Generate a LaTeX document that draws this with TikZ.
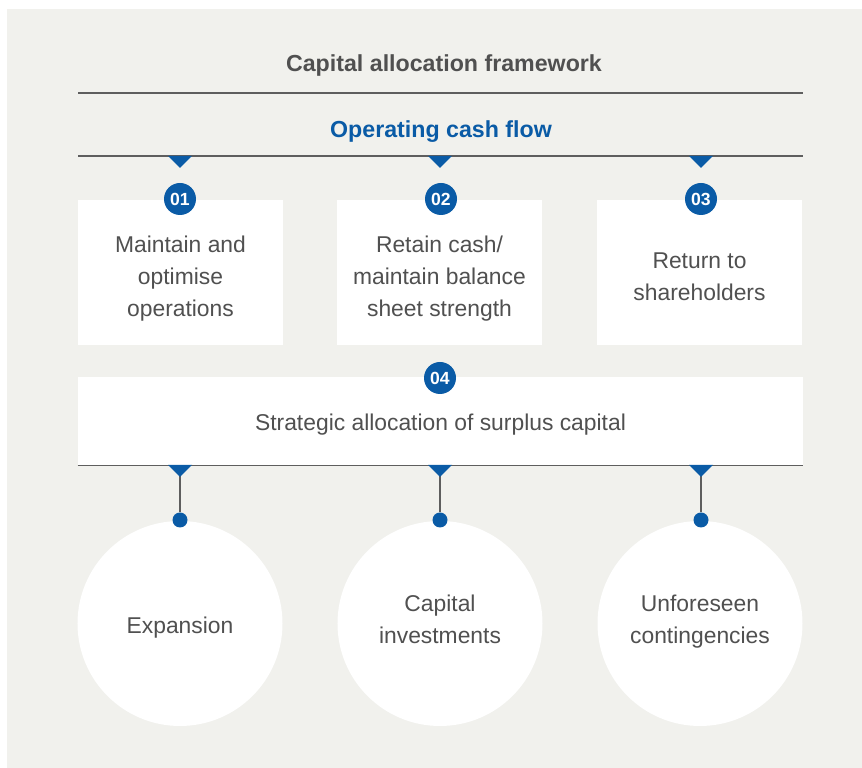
\documentclass[tikz,border=0pt]{standalone}
\usepackage{fontspec}
\setmainfont{Liberation Sans}
\definecolor{bggrey}{HTML}{F1F1ED}
\definecolor{capblue}{HTML}{0A5BA6}
\definecolor{txtgrey}{HTML}{505050}
\definecolor{rulegrey}{HTML}{5E5E5E}
\tikzset{
  box/.style={fill=white, minimum width=41mm, minimum height=29mm},
  bubble/.style={circle, fill=white, minimum size=41mm},
  txt/.style={text=txtgrey, align=center, font=\fontsize{13}{18.1}\selectfont},
  badge/.style={circle, fill=capblue, text=white, inner sep=0pt, minimum size=6.4mm, font=\fontsize{10}{11}\selectfont\bfseries},
  dot/.style={circle, fill=capblue, inner sep=0pt, minimum size=3mm},
  rule/.style={rulegrey, line width=.3mm},
  head/.style={font=\fontsize{13.2}{16}\selectfont\bfseries}
}
\begin{document}
\begin{tikzpicture}[x=.2mm,y=-.2mm]
\useasboundingbox (0,0) rectangle (862,768);
\fill[bggrey] (7,9) rectangle (862,768);

\node[head,text=txtgrey] (title) at (444,66) {Capital allocation framework};
\node[head,text=capblue] (ocf) at (441,132) {Operating cash flow};
\draw[rule] (78,93) -- (803,93);
\draw[rule] (78,156) -- (803,156);

% three uses of cash
\node[box] (b1) at (180.5,272.5) {};
\node[box] (b2) at (439.5,272.5) {};
\node[box] (b3) at (699.5,272.5) {};
\node[txt] (t1) at ([yshift=-1.2mm]b1.center) {Maintain and\\optimise\\operations};
\node[txt] (t2) at ([yshift=-1.2mm]b2.center) {Retain cash/\\maintain balance\\sheet strength};
\node[txt] (t3) at ([yshift=-.8mm]b3.center) {Return to\\shareholders};

% surplus
\node[box,minimum width=145mm,minimum height=17.6mm] (b4) at (440.5,421) {};
\node[txt] (t4) at ([yshift=-.8mm]b4.center) {Strategic allocation of surplus capital};
\draw[rule] (b4.south west) -- (b4.south east);

\node[bubble] (c1) at (180,623.5) {};
\node[bubble] (c2) at (440,623.5) {};
\node[bubble] (c3) at (700,623.5) {};
\node[txt] (u1) at ([yshift=-.8mm]c1.center) {Expansion};
\node[txt] (u2) at ([yshift=.8mm]c2.center) {Capital\\investments};
\node[txt] (u3) at ([yshift=.4mm]c3.center) {Unforeseen\\contingencies};

\foreach \i/\x in {1/180,2/440,3/701}{
  \node[dot] (d\i) at (\x,520) {};
  \draw[rule,line width=.25mm] (b4.south -| d\i) -- (d\i);
  \fill[capblue] (\x-12,156) -- (\x+12,156) -- (\x,168) -- cycle;
  \fill[capblue] (\x-12,465) -- (\x+12,465) -- (\x,477) -- cycle;
}

\node[badge] (n1) at (180,199) {01};
\node[badge] (n2) at (441,199) {02};
\node[badge] (n3) at (701,199) {03};
\node[badge] (n4) at (440,378) {04};
\end{tikzpicture}
\end{document}
